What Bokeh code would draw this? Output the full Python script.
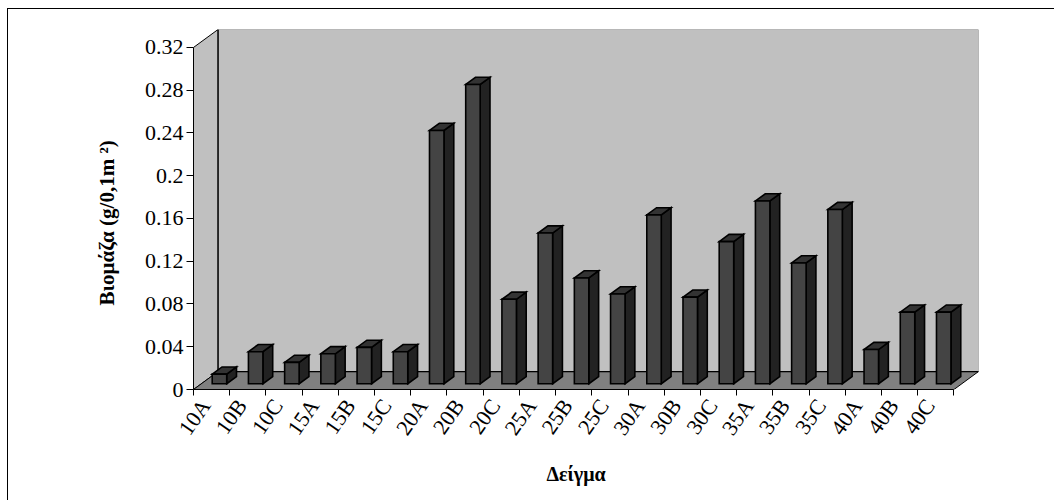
import math

from bokeh.embed import file_html
from bokeh.models import (CustomJSTickFormatter, FixedTicker, InlineStyleSheet,
                          NumeralTickFormatter, Title)
from bokeh.plotting import figure
from bokeh.resources import INLINE

# Sample codes along the category axis
samples = ["10A", "10B", "10C", "15A", "15B", "15C", "20A", "20B", "20C",
           "25A", "25B", "25C", "30A", "30B", "30C", "35A", "35B", "35C",
           "40A", "40B", "40C"]

# Biomass per sample (g / 0.1 m^2)
biomass = [0.009, 0.030, 0.020, 0.028, 0.034, 0.030, 0.237, 0.280, 0.079,
           0.141, 0.099, 0.084, 0.158, 0.081, 0.133, 0.171, 0.113, 0.163,
           0.032, 0.067, 0.067]

# Value axis ticks
y_ticks = [0, 0.04, 0.08, 0.12, 0.16, 0.2, 0.24, 0.28, 0.32]

# --- pseudo-3D geometry (oblique projection) ---
N = len(samples)
Y_MAX = y_ticks[-1]
DX = 0.677          # depth shift along x, in category units
DY = 0.0168         # depth shift along y, in value units
HALF_W = 0.2        # half width of a column, in category units
T_FRONT = 0.32      # depth fraction of the column's front face
T_BACK = 0.72       # depth fraction of the column's back face
LABEL_SHIFT = 0.17  # category labels sit slightly left of the slot centre

WALL = "#C0C0C0"
FLOOR = "#808080"
FACE_FRONT = "#444444"
FACE_SIDE = "#222222"
FACE_TOP = "#333333"
SERIF = "Liberation Serif"

p = figure(width=1054, height=500,
           x_range=(0, N + DX), y_range=(0, Y_MAX + DY),
           output_backend="svg", toolbar_location=None,
           min_border_left=193, min_border_right=76,
           min_border_top=29, min_border_bottom=111)
# chart-area frame: thin black rules on the left and top edges, painted
# as the element background and showing through the transparent border
p.border_fill_color = None
p.stylesheets = [InlineStyleSheet(css="""
:host {
  background-color: #fff;
  background-image: linear-gradient(#000, #000), linear-gradient(#000, #000);
  background-position: 7px 8px, 7px 8px;
  background-size: 1px 600px, 1200px 1px;
  background-repeat: no-repeat, no-repeat;
}
""")]
p.outline_line_color = None
p.xgrid.visible = False
p.ygrid.visible = False
p.background_fill_color = "white"

# walls and floor
p.patch([DX, N + DX, N + DX, DX], [DY, DY, Y_MAX + DY, Y_MAX + DY],
        fill_color=WALL, line_color="#808080", line_width=1)
p.patch([0, DX, DX, 0], [0, DY, Y_MAX + DY, Y_MAX],
        fill_color=WALL, line_color="black", line_width=1)
p.patch([0, N, N + DX, DX], [0, 0, DY, DY],
        fill_color=FLOOR, line_color="black", line_width=1)
p.line([DX, DX], [DY, Y_MAX + DY], line_color="black", line_width=1)
p.line([DX, N + DX], [DY, DY], line_color="black", line_width=1.2)

# columns: front, side and top faces
fx, fy, sx, sy, tx, ty = [], [], [], [], [], []
for i, v in enumerate(biomass):
    c = i + 0.5
    x0 = c - HALF_W + T_FRONT * DX
    x1 = c + HALF_W + T_FRONT * DX
    y0 = T_FRONT * DY
    ddx = (T_BACK - T_FRONT) * DX
    ddy = (T_BACK - T_FRONT) * DY
    fx.append([x0, x1, x1, x0])
    fy.append([y0, y0, y0 + v, y0 + v])
    sx.append([x1, x1 + ddx, x1 + ddx, x1])
    sy.append([y0, y0 + ddy, y0 + v + ddy, y0 + v])
    tx.append([x0, x1, x1 + ddx, x0 + ddx])
    ty.append([y0 + v, y0 + v, y0 + v + ddy, y0 + v + ddy])

p.patches(sx, sy, fill_color=FACE_SIDE, line_color="black", line_width=1.6,
          line_join="miter")
p.patches(tx, ty, fill_color=FACE_TOP, line_color="black", line_width=1.6,
          line_join="miter")
p.patches(fx, fy, fill_color=FACE_FRONT, line_color="black", line_width=1.6,
          line_join="miter")

# value axis
ya = p.yaxis[0]
ya.bounds = (0, Y_MAX)
ya.ticker = FixedTicker(ticks=y_ticks, minor_ticks=[])
ya.formatter = NumeralTickFormatter(format="0.[00]")
ya.major_tick_out = 7
ya.major_tick_in = 0
ya.major_label_standoff = 3
ya.axis_line_color = "black"
ya.major_tick_line_color = "black"
ya.major_label_text_font = SERIF
ya.major_label_text_font_size = "22px"
ya.major_label_text_color = "black"

# category axis: tick marks on slot boundaries, labels near slot centres
xa = p.xaxis[0]
xa.bounds = (0, N)
xa.ticker = FixedTicker(ticks=[i + 0.5 - LABEL_SHIFT for i in range(N)],
                        minor_ticks=list(range(N + 1)))
xa.formatter = CustomJSTickFormatter(
    args=dict(names=samples),
    code="const k = Math.round(tick - 0.5); return names[k] || '';")
xa.major_tick_out = 0
xa.major_tick_in = 0
xa.minor_tick_out = 6
xa.minor_tick_in = 0
xa.minor_tick_line_color = "black"
xa.axis_line_color = "black"
xa.major_label_orientation = math.radians(55)
xa.major_label_standoff = 6
xa.major_label_text_font = SERIF
xa.major_label_text_font_size = "22px"
xa.major_label_text_color = "black"

# axis titles
p.add_layout(Title(text="Βιομάζα (g/0,1m ²)", align="left", offset=84,
                   standoff=45, text_font=SERIF, text_font_style="bold",
                   text_font_size="21px", text_color="black"), "left")
p.add_layout(Title(text="Δείγμα", align="left", offset=353,
                   standoff=23, text_font=SERIF, text_font_style="bold",
                   text_font_size="20px", text_color="black"), "below")

open("out.html", "w").write(file_html(p, INLINE))
